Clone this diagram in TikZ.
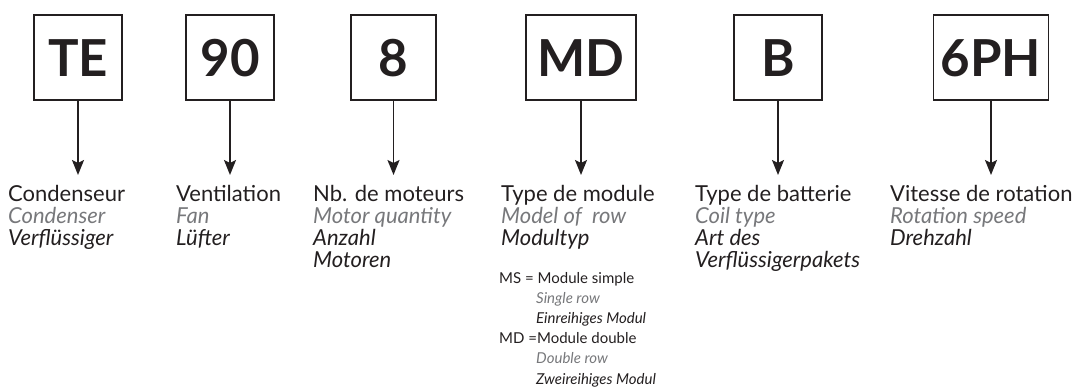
\documentclass[tikz,border=0pt]{standalone}
\usepackage{fontspec}
\setmainfont{Lato}
\usetikzlibrary{arrows.meta}
\definecolor{ink}{HTML}{231F20}
\definecolor{greytxt}{HTML}{77787B}
\tikzset{
  codebox/.style={draw=ink, line width=1.8pt, minimum height=85pt, inner sep=0pt,
    text height=37pt, text depth=0pt, font=\fontsize{51}{51}\selectfont\bfseries, text=ink},
  arr/.style={draw=ink, line width=1.8pt, -{Stealth[length=15pt,width=12pt,inset=3pt]}},
  lA/.style={anchor=base west, inner sep=0pt, font=\fontsize{22}{22}\selectfont, text=ink},
  lB/.style={anchor=base west, inner sep=0pt, font=\fontsize{22}{22}\selectfont\itshape, text=greytxt},
  lC/.style={anchor=base west, inner sep=0pt, font=\fontsize{22}{22}\selectfont\itshape, text=ink},
  sA/.style={anchor=base west, inner sep=0pt, font=\fontsize{15}{15}\selectfont, text=ink},
  sB/.style={anchor=base west, inner sep=0pt, font=\fontsize{15}{15}\selectfont\itshape, text=greytxt},
  sC/.style={anchor=base west, inner sep=0pt, font=\fontsize{15}{15}\selectfont\itshape, text=ink},
}
\begin{document}
\begin{tikzpicture}[x=1pt,y=-1pt]
\useasboundingbox (0,0) rectangle (1084,388);
% code boxes
\node[codebox, minimum width=88pt]  (te)  at (78,57.5)    {TE};
\node[codebox, minimum width=88pt]  (nf)  at (230,57.5)   {90};
\node[codebox, minimum width=85pt]  (ei)  at (393.5,57.5) {8};
\node[codebox, minimum width=110pt] (md)  at (581,57.5)   {MD};
\node[codebox, minimum width=88pt]  (bb)  at (778,57.5)   {B};
\node[codebox, minimum width=115pt] (ph)  at (991,57.5)   {6PH};
% arrow ends
\coordinate (teE) at (78,175);
\coordinate (nfE) at (230,175);
\coordinate (eiE) at (393.5,175);
\coordinate (mdE) at (581,175);
\coordinate (bbE) at (778,175);
\coordinate (phE) at (991,175);
\draw[arr] (te.south) -- (teE);
\draw[arr] (nf.south) -- (nfE);
\draw[arr] (ei.south) -- (eiE);
\draw[arr] (md.south) -- (mdE);
\draw[arr] (bb.south) -- (bbE);
\draw[arr] (ph.south) -- (phE);
% column 1
\node[lA] (c1a) at (8,201) {Condenseur};
\node[lB] (c1b) at (8,223) {Condenser};
\node[lC] (c1c) at (8,245) {Verflüssiger};
% column 2
\node[lA] (c2a) at (176,201) {Ventilation};
\node[lB] (c2b) at (176,223) {Fan};
\node[lC] (c2c) at (176,245) {Lüfter};
% column 3
\node[lA] (c3a) at (313,201) {Nb. de moteurs};
\node[lB] (c3b) at (313,223) {Motor quantity};
\node[lC] (c3c) at (313,245) {Anzahl};
\node[lC] (c3d) at (313,267) {Motoren};
% column 4
\node[lA] (c4a) at (501,201) {Type de module};
\node[lB] (c4b) at (501,223) {Model of\ \ row};
\node[lC] (c4c) at (501,245) {Modultyp};
\node[sA] (m1a) at (499,283) {MS = Module simple};
\node[sB] (m1b) at (536,303) {Single row};
\node[sC] (m1c) at (536,323) {Einreihiges Modul};
\node[sA] (m2a) at (499,343) {MD =Module double};
\node[sB] (m2b) at (536,363) {Double row};
\node[sC] (m2c) at (536,384) {Zweireihiges Modul};
% column 5
\node[lA] (c5a) at (695,201) {Type de batterie};
\node[lB] (c5b) at (695,223) {Coil type};
\node[lC] (c5c) at (695,245) {Art des};
\node[lC] (c5d) at (695,267) {Verflüssigerpakets};
% column 6
\node[lA] (c6a) at (890,201) {Vitesse de rotation};
\node[lB] (c6b) at (890,223) {Rotation speed};
\node[lC] (c6c) at (890,245) {Drehzahl};
\end{tikzpicture}
\end{document}
